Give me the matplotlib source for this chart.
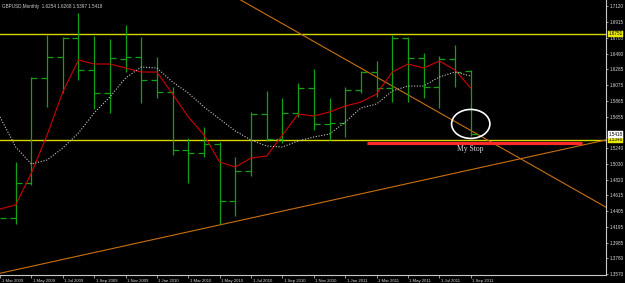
import numpy as np
import matplotlib
matplotlib.use('Agg')
import matplotlib.pyplot as plt
import matplotlib.transforms as mtransforms
from matplotlib.patches import Ellipse

nan = float('nan')

# GBPUSD monthly bars, Mar 2009 .. Sep 2011
# Mar 2009 sits on the left edge: only its close is visible
opens = [nan, 1.4312, 1.4775, 1.6167, 1.6445, 1.6697, 1.6273, 1.5968, 1.6420, 1.6440,
         1.6140, 1.5981, 1.5213, 1.5173, 1.5290, 1.4537, 1.4934, 1.5690, 1.5360, 1.5703,
         1.6034, 1.5557, 1.5570, 1.6008, 1.6246, 1.6034, 1.6697, 1.6432, 1.6047, 1.6418,
         1.6254]
highs = [nan, 1.5054, 1.6180, 1.6736, 1.6710, 1.7028, 1.6723, 1.6683, 1.6869, 1.6710,
         1.6445, 1.6047, 1.5372, 1.5517, 1.5319, 1.5120, 1.5716, 1.5994, 1.5900, 1.6100,
         1.6286, 1.5901, 1.6047, 1.6259, 1.6392, 1.6736, 1.6710, 1.6498, 1.6458, 1.6604,
         1.6268]
lows = [nan, 1.4232, 1.4749, 1.5782, 1.5968, 1.6140, 1.5756, 1.5703, 1.6246, 1.5835,
        1.5901, 1.5146, 1.4775, 1.5120, 1.4232, 1.4338, 1.4868, 1.5330, 1.5305, 1.5650,
        1.5478, 1.5345, 1.5385, 1.5968, 1.5915, 1.5850, 1.5849, 1.5901, 1.5769, 1.6047,
        1.5397]
closes = [1.4312, 1.4775, 1.6167, 1.6445, 1.6697, 1.6273, 1.5968, 1.6432, 1.6440, 1.6140,
          1.5981, 1.5213, 1.5173, 1.5290, 1.4537, 1.4934, 1.5690, 1.5360, 1.5703, 1.6034,
          1.5557, 1.5570, 1.6008, 1.6246, 1.6034, 1.6697, 1.6432, 1.6047, 1.6418, 1.6246,
          1.5418]

# moving averages (red = fast, white dotted = slow)
ma_fast = [1.4431, 1.4484, 1.4908, 1.5411, 1.5981, 1.6405, 1.6352, 1.6352, 1.6299, 1.6246,
           1.6246, 1.5954, 1.5650, 1.5411, 1.5053, 1.4987, 1.5106, 1.5133, 1.5411, 1.5689,
           1.5663, 1.5716, 1.5795, 1.5848, 1.5954, 1.6246, 1.6352, 1.6299, 1.6392, 1.6272,
           1.6034]
ma_slow = [1.5650, 1.5252, 1.5027, 1.5080, 1.5239, 1.5438, 1.5703, 1.5915, 1.6166, 1.6312,
           1.6299, 1.6113, 1.5968, 1.5782, 1.5623, 1.5464, 1.5345, 1.5265, 1.5252, 1.5332,
           1.5385, 1.5424, 1.5583, 1.5769, 1.5822, 1.5994, 1.6060, 1.6060, 1.6180, 1.6246,
           1.6193]

tick_labels = ['1 Mar 2009', '1 May 2009', '1 Jul 2009', '1 Sep 2009', '1 Nov 2009',
               '1 Jan 2010', '1 Mar 2010', '1 May 2010', '1 Jul 2010', '1 Sep 2010',
               '1 Nov 2010', '1 Jan 2011', '1 Mar 2011', '1 May 2011', '1 Jul 2011',
               '1 Sep 2011']
price_ticks = [1.7120, 1.6915, 1.6700, 1.6490, 1.6285, 1.6075, 1.5865, 1.5655, 1.5240,
               1.5030, 1.4820, 1.4615, 1.4405, 1.4195, 1.3985, 1.3780, 1.3570]

resistance = 1.6751
support = 1.5346
last_price = 1.5418
stop_level = 1.5309
stop_span = (23.4, 37.1)          # in bar units
up_trend = [(0.08, 1.3583), (38.6, 1.5345)]
down_trend = [(15.34, 1.7200), (38.6, 1.4457)]
circle_center = (30.0, 1.5558)
header = 'GBPUSD,Monthly  1.6254 1.6268 1.5397 1.5418'

x = np.arange(len(closes))

fig = plt.figure(figsize=(6.25, 2.83), dpi=100, facecolor='black')
ax = fig.add_axes([0, 8 / 283, 606 / 625, 275 / 283])
ax.set_facecolor('black')

ax.set_xlim(0.1, 38.62)
ax.set_ylim(1.35563, 1.72)

# levels
ax.axhline(resistance, color='#d8d800', lw=1.0, zorder=1)
ax.axhline(support, color='#d8d800', lw=1.0, zorder=1)

# trend lines
ax.axline(up_trend[0], up_trend[1], color='#c87010', lw=0.8, zorder=1)
ax.axline(down_trend[0], down_trend[1], color='#c87010', lw=0.8, zorder=1)

# bars
bar_col = '#14a014'
ax.vlines(x, lows, highs, color=bar_col, lw=0.9, zorder=2)
ax.hlines(opens, x - 0.38, x, color=bar_col, lw=0.9, zorder=2)
ax.hlines(closes, x, x + 0.38, color=bar_col, lw=0.9, zorder=2)

# moving averages
ax.plot(x, ma_fast, color='#d00000', lw=0.8, zorder=3)
ax.plot(x, ma_slow, color='#c8c8c8', lw=0.8, ls=(0, (1, 1.5)), zorder=3)

# stop
ax.hlines(stop_level, stop_span[0], stop_span[1], color='#ff2a2a', lw=2.3, zorder=4)
ax.text(30.0, 1.5226, 'My Stop', color='#d8d8d8', fontsize=5.5,
        family='Liberation Serif', ha='center', va='center', zorder=5)
ax.add_patch(Ellipse(circle_center, 2.44, 0.0384, fill=False, ec='white', lw=1.2, zorder=5))

# axes look
for s in ['top', 'left']:
    ax.spines[s].set_visible(False)
for s in ['right', 'bottom']:
    ax.spines[s].set_color('#c8c8c8')
    ax.spines[s].set_linewidth(0.8)

ax.yaxis.tick_right()
ax.set_yticks(price_ticks)
ax.set_yticklabels(['%.4f' % v for v in price_ticks])
ax.tick_params(axis='y', colors='#d8d8d8', labelsize=3.3, length=1.5, width=0.5, pad=0.8)

ax.set_xticks(np.arange(0, 31, 2))
ax.set_xticklabels(tick_labels)
ax.tick_params(axis='x', colors='#d8d8d8', labelsize=3.1, length=2, width=0.5, pad=0.6)
shift = mtransforms.ScaledTranslation(1.5 / 100, 0, fig.dpi_scale_trans)
for lbl in ax.get_xticklabels():
    lbl.set_horizontalalignment('left')
    lbl.set_transform(lbl.get_transform() + shift)
for lbl in ax.get_xticklabels() + ax.get_yticklabels():
    lbl.set_family('Liberation Sans')

# highlighted price labels on the scale
ytr = ax.get_yaxis_transform()
for val, fc, ec in [(resistance, '#e8e800', '#e8e800'), (support, '#e8e800', '#e8e800'),
                    (last_price, 'white', 'white')]:
    ax.text(1.004, val, '%.4f' % val, transform=ytr, fontsize=3.3, family='Liberation Sans',
            color='black', ha='left', va='center', clip_on=False, zorder=6,
            bbox=dict(boxstyle='square,pad=0.15', fc=fc, ec=ec, lw=0.3))

ax.text(0.003, 0.985, header, transform=ax.transAxes, fontsize=3.3, family='Liberation Sans',
        color='#d0d0d0', ha='left', va='top', zorder=6)

fig.savefig('out.png', dpi=100, facecolor='black')
